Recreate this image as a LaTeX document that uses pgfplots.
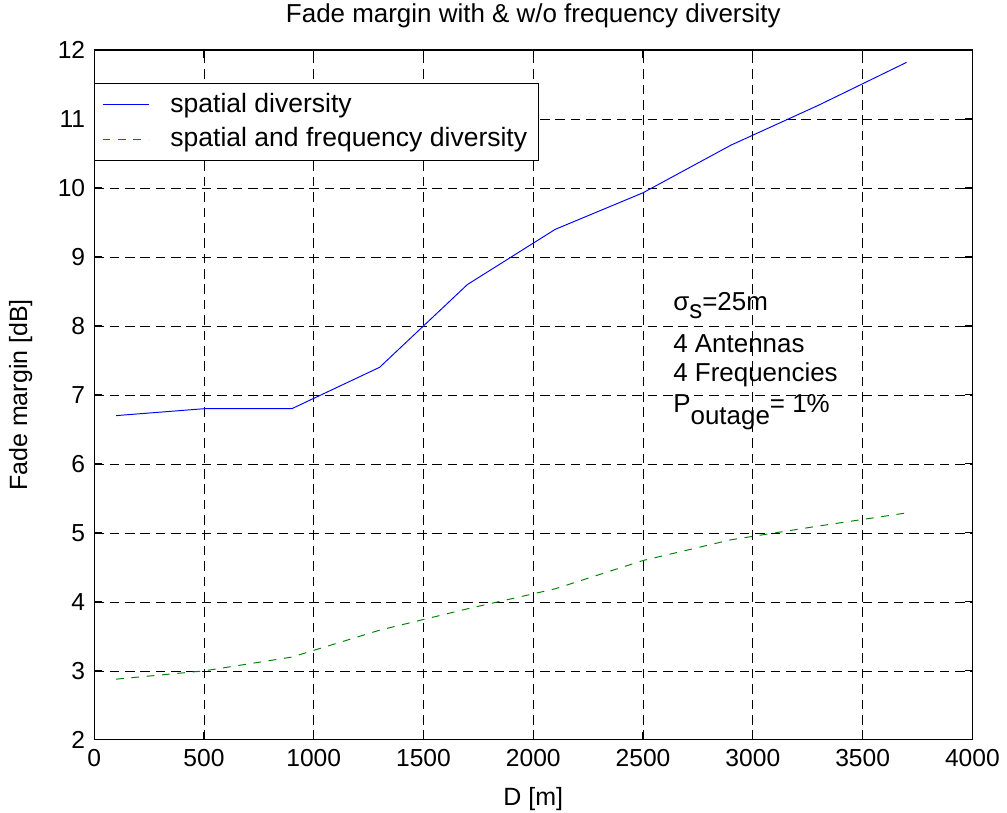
\documentclass[border=0pt]{standalone}
\usepackage{fontspec}
\setmainfont{Liberation Sans}
\usepackage{pgfplots}
\pgfplotsset{compat=1.18}
\usetikzlibrary{calc}

\definecolor{mblue}{RGB}{0,0,255}
\definecolor{mgreen}{RGB}{0,128,0}

\begin{document}
\fontsize{13.5}{16}\selectfont
\begin{tikzpicture}
\begin{axis}[
    scale only axis,
    width=457pt, height=359pt,
    xmin=0, xmax=4000, ymin=2, ymax=12,
    xtick={0,500,...,4000},
    ytick={2,3,...,12},
    /pgf/number format/assume math mode=true,
    /pgf/number format/set thousands separator={},
    tick align=inside,
    major tick length=4pt,
    tick style={black, line width=0.6pt},
    axis line style={line width=0.6pt},
    grid=major,
    major grid style={black, dash pattern=on 5pt off 3pt, line width=0.4pt},
    title={Fade margin with \& w/o frequency diversity},
    title style={yshift=1pt, font=\fontsize{13.5}{16}\selectfont},
    xlabel={D [m]},
    ylabel={Fade margin [dB]},
    xlabel style={yshift=-2pt},
    ylabel style={yshift=4pt},
    tick label style={font=\fontsize{12.8}{15}\selectfont},
    label style={font=\fontsize{13}{15}\selectfont},
    legend style={at={(0,0.952)}, anchor=north west, draw=black,
      font=\fontsize{13.8}{16}\selectfont, cells={anchor=west},
      inner xsep=4pt, inner ysep=3pt, row sep=2pt,
      /tikz/every odd column/.append style={column sep=9pt}},
    legend image code/.code={\draw[#1] (0pt,0pt) -- (24pt,0pt);},
    legend cell align=left,
]
\addplot[mblue, line width=0.5pt] coordinates {
  (100,6.7) (500,6.8) (900,6.8) (1300,7.4) (1700,8.6) (2100,9.4)
  (2500,9.93) (2900,10.62) (3300,11.2) (3700,11.82)};
\addplot[mgreen, line width=0.5pt, dash pattern=on 4pt off 4pt] coordinates {
  (100,2.88) (500,3.0) (900,3.2) (1300,3.59) (1700,3.9) (2100,4.19)
  (2500,4.6) (2900,4.9) (3300,5.1) (3700,5.29)};
\legend{spatial diversity, spatial and frequency diversity}
\node[anchor=base west, inner sep=0pt] at (axis cs:2636,8.22)
  {σ\raisebox{-0.6ex}{s}=25m};
\node[anchor=base west, inner sep=0pt] at (axis cs:2636,7.62) {4 Antennas};
\node[anchor=base west, inner sep=0pt] at (axis cs:2636,7.19) {4 Frequencies};
\node[anchor=base west, inner sep=0pt] at (axis cs:2636,6.75)
  {P\raisebox{-0.9ex}{outage}= 1\%};
\end{axis}
\pgfresetboundingbox
\path ($(current axis.south west)+(-49pt,-38pt)$) rectangle ($(current axis.north east)+(18pt,26pt)$);
\end{tikzpicture}
\end{document}
